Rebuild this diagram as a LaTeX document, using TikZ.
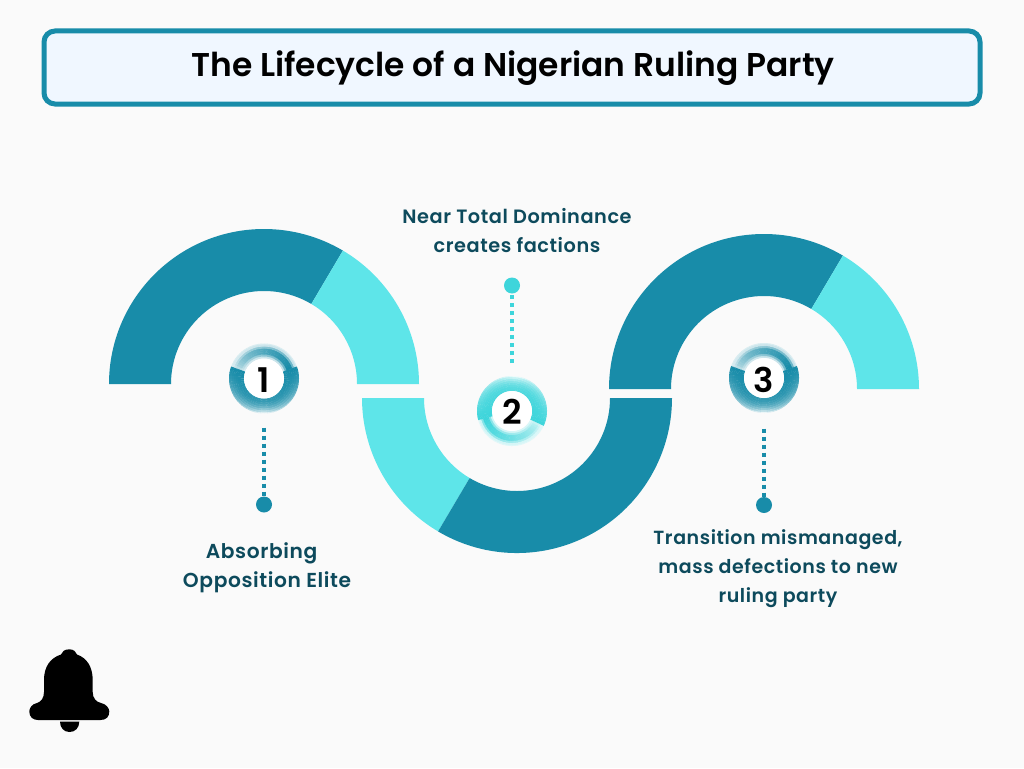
\documentclass[tikz,border=0pt]{standalone}
\usepackage{fontspec}
\setmainfont{Poppins}[BoldFont={Poppins SemiBold}]
\newfontfamily\labelfont{Poppins SemiBold}[LetterSpace=3]
\definecolor{bgc}{HTML}{FAFAFA}
\definecolor{dark}{HTML}{188CA9}
\definecolor{light}{HTML}{5EE5E9}
\definecolor{cyanc}{HTML}{3ED5DB}
\definecolor{txtc}{HTML}{0D4A5C}
\definecolor{boxc}{HTML}{F0F7FF}
% ring segment: centre, from angle, to angle, inner, outer, colour
\newcommand{\seg}[7]{%
  \fill[#7] ({#1+#5*cos(#3)},{#2-#5*sin(#3)})
    -- ({#1+#6*cos(#3)},{#2-#6*sin(#3)})
    -- ({#1+#6*cos((#3+#4)/2)},{#2-#6*sin((#3+#4)/2)})
    -- ({#1+#6*cos(#4)},{#2-#6*sin(#4)})
    -- ({#1+#5*cos(#4)},{#2-#5*sin(#4)})
    -- ({#1+#5*cos((#3+#4)/2)},{#2-#5*sin((#3+#4)/2)}) -- cycle;
}
% icon: cx cy rotation colour
\newcommand{\ringicon}[4]{%
  % thin part, pale at one end, dark at the other, soft on both edges
  \foreach \i in {0,...,27}{
    \pgfmathsetmacro{\aa}{160+#3-5*\i}
    \pgfmathsetmacro{\ab}{\aa-5.6}
    \pgfmathsetmacro{\ff}{\i/27}
    \foreach \r in {20,22,...,34}{
      \pgfmathsetmacro{\bu}{min(1,max(0,1.5*(1-abs(\r+1-27)/6.5)))}
      \pgfmathtruncatemacro{\ca}{16+\bu*(14+70*\ff^0.6)}
      \pgfmathsetmacro{\rb}{min(\r+2.3,35)}
      \seg{#1}{#2}{\aa}{\ab}{\r}{\rb}{#4!\ca!white}
    }
  }
  % thick part, dark at both ends, fading towards its middle and its rim
  \foreach \i in {0,...,43}{
    \pgfmathsetmacro{\aa}{160+#3+5*\i}
    \pgfmathsetmacro{\ab}{min(\aa+5.6,380+#3)}
    \pgfmathsetmacro{\ff}{abs(\i-21.5)/21.5}
    \foreach \r in {20,22,...,34}{
      \pgfmathtruncatemacro{\ca}{100-(1-\ff)^1.1*(12+82*((\r-20)/14)^2)}
      \pgfmathsetmacro{\rb}{min(\r+2.3,35)}
      \seg{#1}{#2}{\aa}{\ab}{\r}{\rb}{#4!\ca!white}
    }
  }
  \fill[white] (#1,#2) circle[radius=20pt];
}
\tikzset{
  x=1pt,y=-1pt,
  darkarc/.style={fill=dark},
  lightarc/.style={fill=light},
  titlebox/.style={draw=dark,line width=5pt,fill=boxc,rounded corners=11pt,minimum width=936pt,minimum height=73pt,inner sep=0pt},
  titletext/.style={font=\bfseries\fontsize{32.9}{38}\selectfont,text=black},
  label/.style={text=txtc,align=center,inner sep=0pt},
  numtext/.style={font=\bfseries\fontsize{34}{34}\selectfont,text=black,inner sep=0pt},
  enddot/.style={circle,inner sep=0pt,minimum size=16pt},
  dotline/.style={line width=4pt,dash pattern=on 4pt off 4pt},
}
\begin{document}
\begin{tikzpicture}
\useasboundingbox (0,0) rectangle (1024,768);
\fill[bgc] (0,0) rectangle (1024,768);
\node[titlebox] (titlebg) at (512,67.5) {};
\node[titletext] (title) at (513,68) {The Lifecycle of a Nigerian Ruling Party};

% arch 1
\fill[darkarc] (109,384) arc[start angle=180,end angle=59.4,radius=155pt] -- ({264+93*cos(59.4)},{384-93*sin(59.4)}) arc[start angle=59.4,end angle=180,radius=93pt] -- cycle;
\fill[lightarc] ({264+155*cos(59.4)},{384-155*sin(59.4)}) arc[start angle=59.4,end angle=0,radius=155pt] -- (357,384) arc[start angle=0,end angle=59.4,radius=93pt] -- cycle;
% arch 2
\fill[lightarc] (362,398) arc[start angle=180,end angle=239.4,radius=155pt] -- ({517+93*cos(239.4)},{398-93*sin(239.4)}) arc[start angle=239.4,end angle=180,radius=93pt] -- cycle;
\fill[darkarc] ({517+155*cos(239.4)},{398-155*sin(239.4)}) arc[start angle=239.4,end angle=360,radius=155pt] -- (610,398) arc[start angle=360,end angle=239.4,radius=93pt] -- cycle;
% arch 3
\fill[darkarc] (609,389) arc[start angle=180,end angle=59.4,radius=155pt] -- ({764+93*cos(59.4)},{389-93*sin(59.4)}) arc[start angle=59.4,end angle=180,radius=93pt] -- cycle;
\fill[lightarc] ({764+155*cos(59.4)},{389-155*sin(59.4)}) arc[start angle=59.4,end angle=0,radius=155pt] -- (857,389) arc[start angle=0,end angle=59.4,radius=93pt] -- cycle;

% icons
\ringicon{264}{378.5}{0}{dark}
\ringicon{512}{411}{-185}{cyanc}
\ringicon{764}{378}{0}{dark}
\node[numtext] (n1) at (264,380) {1};
\node[numtext] (n2) at (512,412) {2};
\node[numtext] (n3) at (764,380) {3};

% end dots and dotted connectors
\node[enddot,fill=dark] (d1) at (264,504.5) {};
\node[enddot,fill=cyanc] (d2) at (512,285.5) {};
\node[enddot,fill=dark] (d3) at (764,505) {};
\coordinate (t1) at (264,427.5);
\coordinate (t2) at (512,363);
\coordinate (t3) at (764,428.5);
\draw[dotline,dark] (t1) -- (d1.center);
\draw[dotline,cyanc] (t2) -- (d2.center);
\draw[dotline,dark] (t3) -- (d3.center);

% labels
\node[label,font=\labelfont\fontsize{20.2}{29}\selectfont] (l1) at (267,568) {Absorbing\hspace*{11pt}\\Opposition Elite};
\node[label,font=\labelfont\fontsize{19.3}{29}\selectfont] (l2) at (517,231) {Near Total Dominance\\creates factions};
\node[label,font=\labelfont\fontsize{19}{29}\selectfont] (l3) at (778,569) {Transition mismanaged,\\mass defections to new\\ruling party};

% bell
\fill[black] (69.3,649.3) .. controls (64,649.3) and (62,652) .. (61,654.5)
  .. controls (50,658) and (44,667) .. (44,680) -- (44,692)
  .. controls (44,698) and (41,702) .. (37,703)
  .. controls (32,704) and (29.3,708) .. (29.3,711.5)
  .. controls (29.3,717) and (33,720) .. (38,720) -- (100.5,720)
  .. controls (106,720) and (109.3,717) .. (109.3,711.5)
  .. controls (109.3,708) and (106,704) .. (101,703)
  .. controls (96,702) and (92.7,698) .. (92.7,692) -- (92.7,680)
  .. controls (92.7,667) and (87,658) .. (77,654.5)
  .. controls (76,652) and (74,649.3) .. (69.3,649.3) -- cycle;
\fill[black] (60,721.5) -- (79.3,721.5) .. controls (79.3,728) and (75,732) .. (69.6,732) .. controls (64,732) and (60,728) .. (60,721.5) -- cycle;
\end{tikzpicture}
\end{document}
